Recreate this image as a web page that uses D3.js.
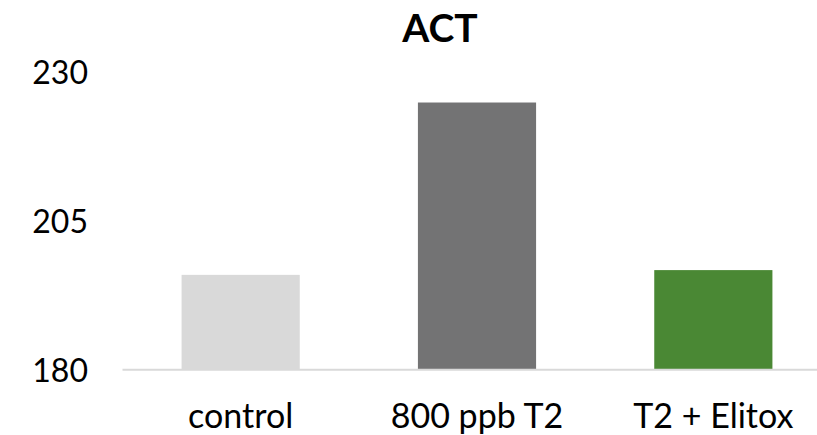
<!DOCTYPE html>
<html>
<head>
<meta charset="utf-8">
<script src="https://cdn.jsdelivr.net/npm/d3@7"></script>
<style>
  html, body { margin: 0; padding: 0; background: #fff; }
  svg { display: block; }
  text { font-family: Lato, "Open Sans", sans-serif; fill: #000; }
</style>
</head>
<body>
<svg id="chart" width="817" height="435"></svg>
<script>
const title = "ACT";
const categories = ["control", "800 ppb T2", "T2 + Elitox"];
const values = [195.9, 224.8, 196.7];
const barColors = ["#d9d9d9", "#737374", "#4a8834"];
const yTicks = [180, 205, 230];

const svg = d3.select("#chart");

const x = d3.scaleBand()
  .domain(categories)
  .range([122.5, 831.5])
  .paddingInner(0.5)
  .paddingOuter(0.25);

const y = d3.scaleLinear()
  .domain([180, 230])
  .range([369.7, 71.5]);

// bars
svg.append("g")
  .selectAll("rect")
  .data(categories)
  .join("rect")
  .attr("x", d => x(d))
  .attr("width", x.bandwidth())
  .attr("y", (d, i) => y(values[i]))
  .attr("height", (d, i) => y(180) - y(values[i]))
  .attr("fill", (d, i) => barColors[i]);

// x axis baseline
const xAxis = d3.axisBottom(x).tickSize(0).tickPadding(0);
const gx = svg.append("g")
  .attr("transform", `translate(0,${y(180)})`)
  .call(xAxis);
gx.select(".domain")
  .attr("stroke", "#d9d9d9")
  .attr("stroke-width", 2)
  .attr("d", `M${x.range()[0]},0H${x.range()[1]}`);
gx.selectAll(".tick text")
  .attr("dy", null)
  .attr("y", 58)
  .attr("font-size", 34)
  .attr("font-family", "Lato, sans-serif")
  .attr("fill", "#000");

// y axis labels
const yAxis = d3.axisLeft(y).tickValues(yTicks).tickSize(0).tickPadding(0);
const gy = svg.append("g")
  .attr("transform", "translate(88,0)")
  .call(yAxis);
gy.select(".domain").remove();
gy.selectAll(".tick text")
  .attr("dy", null)
  .attr("y", 11.8)
  .attr("x", 0)
  .attr("font-size", 32)
  .attr("font-family", "Lato, sans-serif")
  .attr("fill", "#000");

// title
svg.append("text")
  .attr("x", 440)
  .attr("y", 42)
  .attr("text-anchor", "middle")
  .attr("font-size", 39)
  .attr("font-weight", "bold")
  .text(title);
</script>
</body>
</html>
